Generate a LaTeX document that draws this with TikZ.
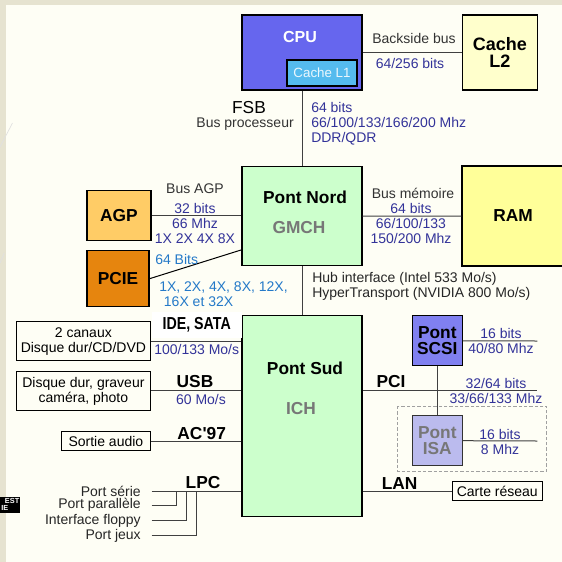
\documentclass[tikz,border=0pt]{standalone}
\usepackage{fontspec}
\setmainfont{Liberation Sans}[Ligatures=TeXOff]
\usepackage{graphicx}
\usepackage{tikz}
\usetikzlibrary{calc}

\definecolor{cadre}{HTML}{E6E3D0}
\definecolor{papier}{HTML}{FEFEF5}
\definecolor{cpuc}{HTML}{6666EE}
\definecolor{lunc}{HTML}{55BBEE}
\definecolor{ldeuxc}{HTML}{FFFFCC}
\definecolor{ramc}{HTML}{FFFF99}
\definecolor{pontc}{HTML}{CCFFCC}
\definecolor{agpc}{HTML}{FFCC66}
\definecolor{pciec}{HTML}{E6850E}
\definecolor{scsic}{HTML}{8080F0}
\definecolor{isac}{HTML}{BBBBEE}
\definecolor{bleu}{HTML}{333399}
\definecolor{bleuclair}{HTML}{2479C8}
\definecolor{gris}{HTML}{777777}
\definecolor{texte}{HTML}{333333}

\newcommand{\petit}{\fontsize{10.5}{11.25}\selectfont}
\newcommand{\gras}{\fontsize{13}{12.2}\selectfont\bfseries}

\begin{document}
\begin{tikzpicture}[x=0.75pt,y=-0.75pt,
    boite/.style={draw=black,line width=0.8pt,inner sep=0pt,align=center},
    lien/.style={draw=black!75,line width=0.75pt},
    info/.style={font=\petit,text=bleu,align=center,inner sep=0pt},
    note/.style={font=\petit,text=texte,inner sep=0pt},
    titre/.style={font=\gras,inner sep=0pt}]
      \useasboundingbox (0,0) rectangle (562,562);
      \clip (0,0) rectangle (562,562);
      \fill[cadre] (0,0) rectangle (562,562);
      \fill[papier] (6,5) rectangle (562,562);
      \draw[black!12,line width=0.5pt] (0,147) -- (12.5,123);
      \draw[black!12,line width=0.5pt] (0,263) -- (4.3,253);
      % processeur et caches
      \node[boite,fill=cpuc,minimum width=90pt,minimum height=56.25pt] (cpu) at (302,52.5) {};
      \node[titre,text=white,font=\fontsize{12}{12}\selectfont\bfseries] (cpulbl) at (300,37) {CPU};
      \node[boite,fill=lunc,minimum width=52.5pt,minimum height=19.5pt,text=white!88!lunc,font=\fontsize{10}{10}\selectfont] (lun) at (322,73) {Cache L1};
      \node[boite,fill=ldeuxc,minimum width=56.25pt,minimum height=56.25pt,font=\fontsize{13.5}{12.2}\selectfont\bfseries] (ldeux) at (500,52.5) {Cache\\L2};
      \draw[lien] (cpu) -- (ldeux);
      \node[note] (backside) at (414,38.3) {Backside bus};
      \node[info] (backbits) at (410,63.3) {64/256 bits};
      % pont nord
      \node[boite,fill=pontc,minimum width=90pt,minimum height=74.25pt] (nord) at (302,216.2) {};
      \node[titre] (nordlbl) at (305,197.3) {Pont Nord};
      \node[titre,text=gris] (gmch) at (299,227.3) {GMCH};
      \draw[lien] (cpu) -- (nord);
      \node[font=\fontsize{13}{13}\selectfont,inner sep=0pt,text depth=0pt] (fsb) at (249,107) {FSB};
      \node[note,anchor=east] (busproc) at (294,124) {Bus processeur};
      \node[info,align=left,anchor=west] (fsbinfo) at (311,123.3) {64 bits\\66/100/133/166/200 Mhz\\DDR/QDR};
      % AGP / PCIE
      \node[boite,fill=agpc,minimum width=48pt,minimum height=37.5pt,font=\gras] (agp) at (119,215.7) {AGP};
      \draw[lien] (agp) -- (agp -| nord.west);
      \node[note] (busagp) at (195,188.3) {Bus AGP};
      \node[info] (agpinfo) at (195,223.3) {32 bits\\66 Mhz\\1X 2X 4X 8X};
      \node[boite,fill=pciec,minimum width=46.5pt,minimum height=42pt,font=\gras] (pcie) at (118,278.7) {PCIE};
      \coordinate (pciefin) at (241,250);
      \draw[black,line width=0.75pt] (pcie.east) -- (pciefin);
      \node[info,text=bleuclair,anchor=west] (pciebits) at (155,259.3) {64 Bits};
      \node[info,text=bleuclair,align=left,anchor=west] (pciex) at (159,294.2) {1X, 2X, 4X, 8X, 12X,\\\hspace*{3.5pt}16X et 32X};
      % memoire
      \node[boite,fill=ramc,minimum width=76.5pt,minimum height=75pt,font=\gras] (ram) at (513,216) {RAM};
      \draw[lien] (nord) -- (ram);
      \node[note] (busmem) at (413,193.3) {Bus mémoire};
      \node[info] (meminfo) at (411,223.3) {64 bits\\66/100/133\\150/200 Mhz};
      % pont sud
      \node[boite,fill=pontc,minimum width=90pt,minimum height=150.4pt] (sud) at (302,416.2) {};
      \node[titre] (sudlbl) at (305,368.3) {Pont Sud};
      \node[titre,text=gris] (ich) at (301,408.3) {ICH};
      \draw[lien] (nord) -- (sud);
      \node[note,text=black!85,align=left,anchor=west] (hub) at (312,286.2) {Hub interface (Intel 533 Mo/s)\\HyperTransport (NVIDIA 800 Mo/s)};
      % peripheriques a gauche
      \node[boite,minimum width=100pt,minimum height=29.25pt,font=\petit] (ide) at (83.4,341.2) {2 canaux\\Disque dur/CD/DVD};
      \node[titre,fill=white,minimum width=67.5pt,minimum height=20pt] (idelbl) at (196.7,325) {\scalebox{0.82}[1]{IDE, SATA}};
      \draw[lien] (ide) -- (ide -| sud.west);
      \node[info] (idevit) at (196.7,349.3) {100/133 Mo/s};
      \node[boite,minimum width=100pt,minimum height=29.8pt,font=\petit] (usb) at (83.4,390.9) {Disque dur, graveur\\caméra, photo};
      \draw[lien] (usb) -- (usb -| sud.west);
      \node[titre] (usblbl) at (195,381.7) {USB};
      \node[info] (usbvit) at (201,399.3) {60 Mo/s};
      \node[boite,minimum width=66.2pt,minimum height=13.9pt,font=\petit] (audio) at (105.9,441.2) {Sortie audio};
      \draw[lien] (audio) -- (audio -| sud.west);
      \node[titre] (aclbl) at (201.7,433.3) {AC'97};
      % LPC
      \node[note,text=black!85,anchor=east,inner xsep=8pt] (serie) at (151.7,491.5) {Port série};
      \node[note,text=black!85,anchor=east,inner xsep=8pt] (para) at (151.7,505) {Port parallèle};
      \node[note,text=black!85,anchor=east,inner xsep=8pt] (floppy) at (151.7,520.5) {Interface floppy};
      \node[note,text=black!85,anchor=east,inner xsep=8pt] (jeux) at (151.7,535.5) {Port jeux};
      \coordinate (jpara) at (176.7,491.5);
      \coordinate (jfloppy) at (186.7,491.5);
      \coordinate (jjeux) at (196,491.5);
      \draw[lien] (serie.east) -- (serie.east -| sud.west);
      \draw[lien] (para.east) -| (jpara);
      \draw[lien] (floppy.east) -| (jfloppy);
      \draw[lien] (jeux.east) -| (jjeux);
      \node[titre] (lpclbl) at (203,482.7) {LPC};
      % cote droit : PCI, SCSI, ISA, LAN
      \draw[gris!70,dashed,dash pattern=on 2.5pt off 1.5pt,line width=0.6pt] (397.3,406) rectangle (546.7,471);
      \node[boite,fill=scsic,minimum width=37.5pt,minimum height=37.3pt,font=\gras] (scsi) at (437.3,340.8) {Pont\\SCSI};
      \node[boite,draw=black!80,fill=isac,minimum width=37.5pt,minimum height=37.5pt,font=\gras,text=gris] (isa) at (437.3,440.7) {Pont\\ISA};
      \coordinate (scsifin) at (537.3,341);
      \coordinate (pcifin) at (537.3,390.7);
      \coordinate (isafin) at (537.3,441);
      \draw[lien] (scsi) -- (isa);
      \draw[lien] (scsi.east) -- (scsifin);
      \draw[lien] (sud.east |- pcifin) -- (pcifin);
      \draw[lien] (isa.east) -- (isafin);
      \node[info] (scsiinfo) at (501,341.3) {16 bits\\40/80 Mhz};
      \node[titre] (pcilbl) at (391,381.7) {PCI};
      \node[info] (pciinfo) at (496,391.2) {32/64 bits\\33/66/133 Mhz};
      \node[info] (isainfo) at (500,441.5) {16 bits\\8 Mhz};
      \node[boite,minimum width=67.5pt,minimum height=14.25pt,font=\petit] (carte) at (497.3,491.2) {Carte réseau};
      \draw[lien] (carte.west -| sud.east) -- (carte.west);
      \node[titre] (lanlbl) at (399.6,483.3) {LAN};
      % fragment noir a gauche
      \node[fill=black,minimum width=14.6pt,minimum height=12pt,inner sep=0pt,anchor=north west] (logo) at (0,496.7) {};
      \node[text=white,font=\fontsize{5.5}{5}\selectfont\bfseries,anchor=east,inner sep=0pt,text depth=0pt] (est) at (19.5,500.6) {EST};
      \node[text=white,font=\fontsize{5.5}{5}\selectfont\bfseries,anchor=east,inner sep=0pt,text depth=0pt] (ie) at (8.5,508.4) {IE};
    \end{tikzpicture}
\end{document}
